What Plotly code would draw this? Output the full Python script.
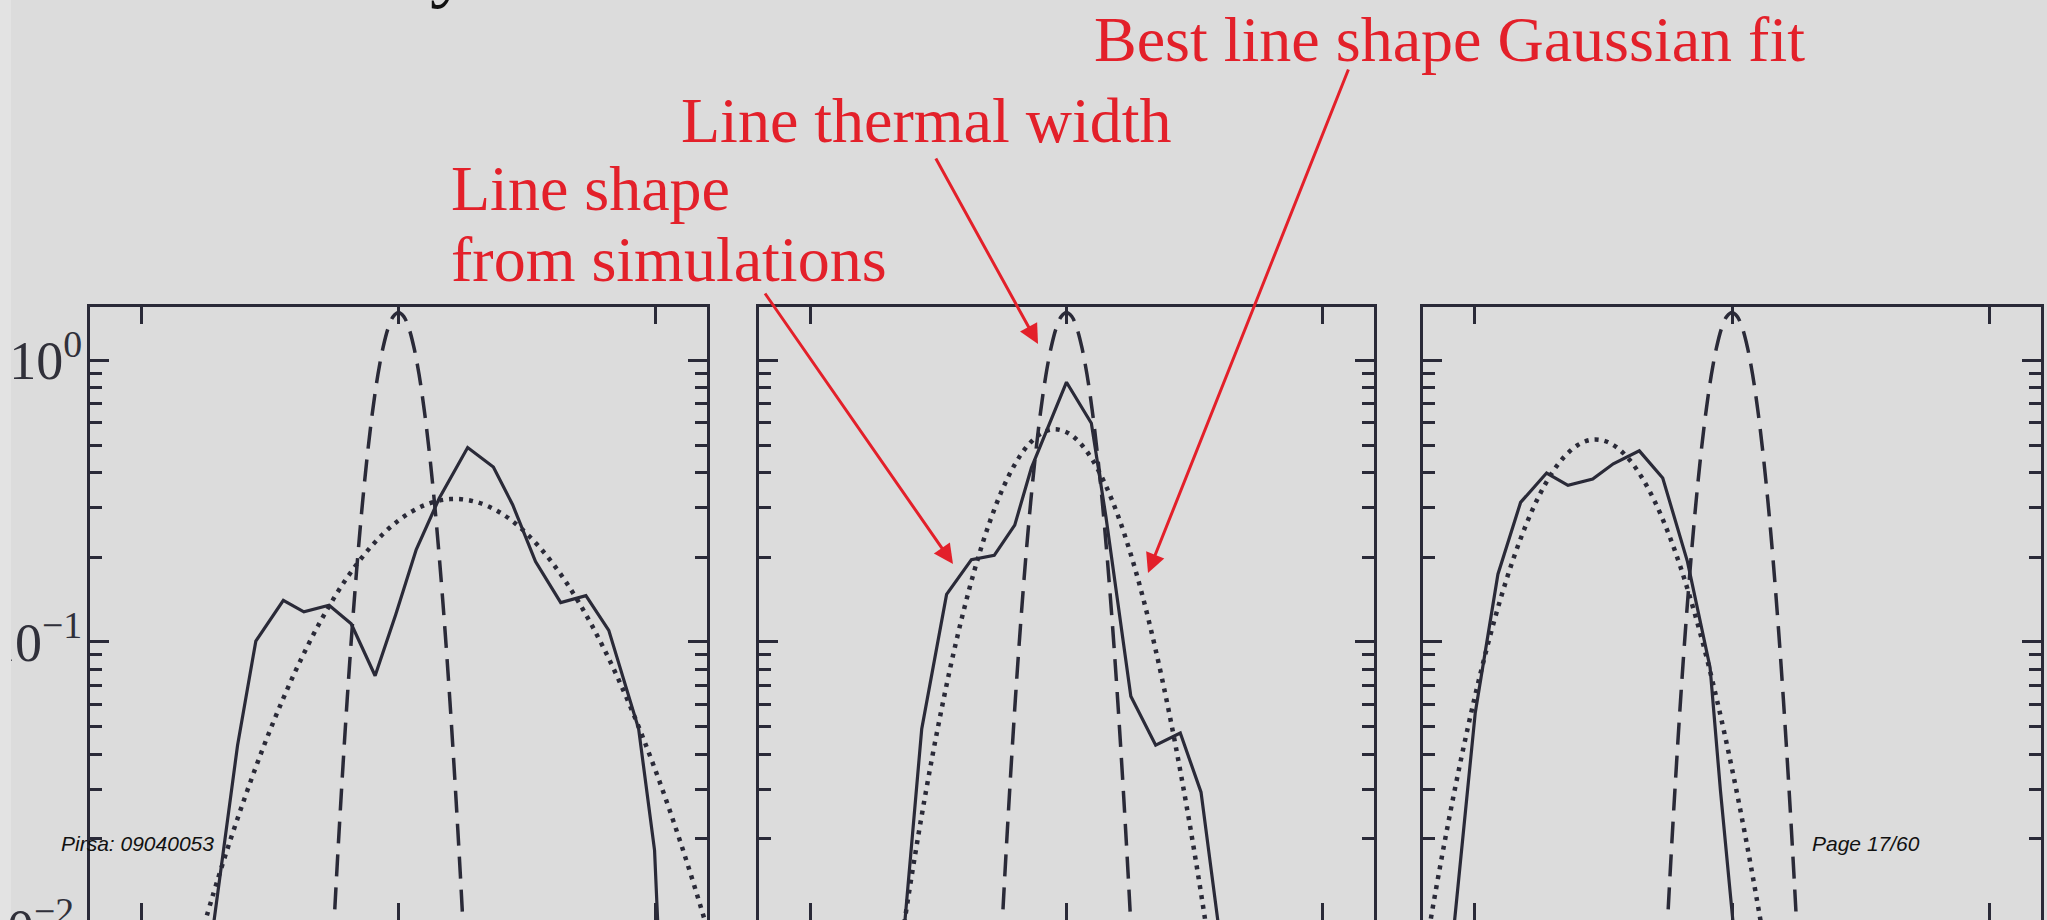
import plotly.graph_objects as go

W, H = 2047, 920
INK = "#2a2a38"
RED = "#e3202a"
BG = "#dcdcdc"

# ---------------- data ----------------
# Thermal line profile (same in every panel), velocity offset vs. normalised flux
thermal_x = [-0.28, -0.26, -0.24, -0.22, -0.20, -0.18, -0.16, -0.14, -0.12, -0.10,
             -0.08, -0.06, -0.04, -0.02, 0.00, 0.02, 0.04, 0.06, 0.08, 0.10,
             0.12, 0.14, 0.16, 0.18, 0.20, 0.22, 0.24, 0.26, 0.28]
thermal_v = [0.00292, 0.00689, 0.01524, 0.0316, 0.0617, 0.1128, 0.1935, 0.3118, 0.471, 0.668,
             0.890, 1.111, 1.303, 1.433, 1.479, 1.433, 1.303, 1.111, 0.890, 0.668,
             0.471, 0.3118, 0.1935, 0.1128, 0.0617, 0.0316, 0.01524, 0.00689, 0.00292]

# Panel 1
sim1_x = [-0.74, -0.680, -0.626, -0.555, -0.448, -0.368, -0.270, -0.184, -0.091, -0.011,
          0.069, 0.158, 0.269, 0.369, 0.444, 0.533, 0.631, 0.729, 0.818, 0.934, 0.996, 1.03]
sim1_v = [0.0072, 0.0184, 0.043, 0.1007, 0.1405, 0.128, 0.135, 0.116, 0.0759, 0.125,
          0.213, 0.323, 0.490, 0.418, 0.307, 0.193, 0.138, 0.146, 0.110, 0.0492, 0.0182, 0.0036]
fit1_x = [-0.8, -0.7, -0.6, -0.5, -0.4, -0.3, -0.2, -0.1, 0.0, 0.1, 0.2, 0.3,
          0.4, 0.5, 0.6, 0.7, 0.8, 0.9, 1.0, 1.1, 1.2, 1.3]
fit1_v = [0.00721, 0.01466, 0.02767, 0.04853, 0.0791, 0.1200, 0.1691, 0.2216, 0.2699, 0.3056,
          0.3216, 0.3146, 0.2862, 0.2418, 0.1901, 0.1389, 0.0943, 0.0595, 0.0349, 0.01905,
          0.00966, 0.00455]

# Panel 2
sim2_x = [-0.66, -0.565, -0.468, -0.371, -0.282, -0.202, -0.137, 0.0, 0.097, 0.154,
          0.251, 0.348, 0.444, 0.525, 0.62]
sim2_v = [0.00505, 0.0491, 0.1476, 0.196, 0.203, 0.260, 0.415, 0.836, 0.598, 0.278,
          0.0642, 0.0430, 0.0475, 0.0293, 0.0064]
fit2_x = [-0.70, -0.65, -0.60, -0.55, -0.50, -0.45, -0.40, -0.35, -0.30, -0.25, -0.20,
          -0.15, -0.10, -0.05, 0.00, 0.05, 0.10, 0.15, 0.20, 0.25, 0.30, 0.35, 0.40,
          0.45, 0.50, 0.55, 0.60]
fit2_v = [0.0038, 0.00793, 0.01560, 0.02897, 0.0507, 0.0838, 0.1306, 0.1920, 0.2662, 0.3483,
          0.4297, 0.5000, 0.5492, 0.5687, 0.5556, 0.5119, 0.4450, 0.3649, 0.2823, 0.2060,
          0.1418, 0.0920, 0.0564, 0.0326, 0.01775, 0.00912, 0.00443]

# Panel 3
sim3_x = [-1.10, -0.997, -0.909, -0.821, -0.720, -0.637, -0.541, -0.461, -0.360, -0.269,
          -0.173, -0.085, -0.045, 0.02]
sim3_v = [0.00635, 0.0561, 0.174, 0.313, 0.398, 0.360, 0.379, 0.429, 0.477, 0.382,
          0.193, 0.081, 0.0298, 0.0071]
fit3_x = [-1.25, -1.20, -1.15, -1.10, -1.05, -1.00, -0.95, -0.90, -0.85, -0.80, -0.75,
          -0.70, -0.65, -0.60, -0.55, -0.50, -0.45, -0.40, -0.35, -0.30, -0.25, -0.20,
          -0.15, -0.10, -0.05, 0.00, 0.05, 0.10, 0.15, 0.20]
fit3_v = [0.00365, 0.00711, 0.01318, 0.02328, 0.03926, 0.0631, 0.0966, 0.1411, 0.1963,
          0.2604, 0.3294, 0.3970, 0.4560, 0.4995, 0.5215, 0.5191, 0.4925, 0.4453, 0.3838,
          0.3155, 0.2471, 0.1845, 0.1313, 0.0891, 0.0576, 0.0355, 0.02088, 0.01169,
          0.00624, 0.00318]

x_ticks = [-1, 0, 1]
y_ticks = [1, 0.1]
y_ticktext = ["10<sup>0</sup>", "10<sup>\u22121</sup>"]
y_low_label = "10<sup>\u22122</sup>"
y_minor = [0.9, 0.8, 0.7, 0.6, 0.5, 0.4, 0.3, 0.2,
           0.09, 0.08, 0.07, 0.06, 0.05, 0.04, 0.03, 0.02]

panels = [(sim1_x, sim1_v, fit1_x, fit1_v),
          (sim2_x, sim2_v, fit2_x, fit2_v),
          (sim3_x, sim3_v, fit3_x, fit3_v)]

# ---------------- layout helpers ----------------
def px(xp):
    return xp / W

def py(yp):
    return 1 - yp / H

panel_px = [(90, 707), (759, 1374), (1423, 2041)]
y_dom = [0, py(306.5)]
tick_font = dict(family="Liberation Serif", size=54, color="#30303a")

fig = go.Figure()

for i, (sx, sv, fx_, fv_) in enumerate(panels):
    xa = "x" if i == 0 else f"x{i + 1}"
    ya = "y" if i == 0 else f"y{i + 1}"
    fig.add_trace(go.Scatter(x=thermal_x, y=thermal_v, mode="lines", xaxis=xa, yaxis=ya,
                             line=dict(color=INK, width=3.5, dash="22px,11px", shape="spline"),
                             hoverinfo="skip"))
    fig.add_trace(go.Scatter(x=fx_, y=fv_, mode="lines", xaxis=xa, yaxis=ya,
                             line=dict(color=INK, width=4.5, dash="4px,6px", shape="spline"),
                             hoverinfo="skip"))
    fig.add_trace(go.Scatter(x=sx, y=sv, mode="lines", xaxis=xa, yaxis=ya,
                             line=dict(color=INK, width=3.2), hoverinfo="skip"))

layout = dict(
    width=W, height=H,
    margin=dict(l=0, r=0, t=0, b=0, pad=0),
    paper_bgcolor=BG, plot_bgcolor=BG,
    showlegend=False,
    template="none",
)

for i, (x0, x1) in enumerate(panel_px):
    xk = "xaxis" if i == 0 else f"xaxis{i + 1}"
    yk = "yaxis" if i == 0 else f"yaxis{i + 1}"
    xa = "x" if i == 0 else f"x{i + 1}"
    ya = "y" if i == 0 else f"y{i + 1}"
    layout[xk] = dict(
        domain=[px(x0), px(x1)], range=[-1.2, 1.2], anchor=ya, side="top",
        showline=True, linecolor=INK, linewidth=3, mirror="ticks",
        ticks="inside", ticklen=17, tickwidth=3, tickcolor=INK,
        tickmode="array", tickvals=x_ticks, showticklabels=False,
        showgrid=False, zeroline=False, automargin=False, fixedrange=True,
    )
    layout[yk] = dict(
        domain=y_dom, type="log", range=[-1.987, 0.191], anchor=xa,
        showline=True, linecolor=INK, linewidth=3, mirror="ticks",
        ticks="inside", ticklen=19, tickwidth=3, tickcolor=INK,
        tickmode="array", tickvals=y_ticks, ticktext=y_ticktext,
        showticklabels=(i == 0), tickfont=tick_font, ticklabelstandoff=-6,
        minor=dict(tickmode="array", tickvals=y_minor, ticks="inside",
                   ticklen=12, tickwidth=3, tickcolor=INK, showgrid=False),
        showgrid=False, zeroline=False, automargin=False, fixedrange=True,
    )

serif = dict(family="Liberation Serif", size=64, color=RED)
foot = dict(family="Liberation Sans", size=21, color="#111111")

def label(text, left, center_y, font, anchor="left"):
    return dict(text=text, xref="paper", yref="paper", x=px(left), y=py(center_y),
                xanchor=anchor, yanchor="middle", showarrow=False, font=font)

def arrow(tail, tip):
    return dict(text="", xref="paper", yref="paper", x=px(tip[0]), y=py(tip[1]),
                axref="pixel", ayref="pixel", ax=tail[0] - tip[0], ay=tail[1] - tip[1],
                showarrow=True, arrowhead=2, arrowsize=1.3, arrowwidth=3,
                arrowcolor=RED, standoff=0, startstandoff=0)

annotations = [
    label("Best line shape Gaussian fit", 1092, 40, serif),
    label("Line thermal width", 679, 121, serif),
    label("Line shape", 449, 189, serif),
    label("from simulations", 449, 260, serif),
    arrow((1349, 68), (1148, 573)),
    arrow((935, 157), (1038, 344)),
    arrow((764, 292), (953, 564)),
    label(y_low_label, 76, 924, tick_font, anchor="right"),
    label("<i>Pirsa: 09040053</i>", 59, 843, foot),
    label("<i>Page 17/60</i>", 1810, 843, foot),
    label("y", 428, -35, dict(family="Liberation Serif", size=80, color="#111111")),
]
layout["annotations"] = annotations
# pale slide edge along the left side
layout["shapes"] = [dict(type="rect", xref="paper", yref="paper", x0=0, x1=px(11),
                         y0=0, y1=1, fillcolor="#e3e3e3", line=dict(width=0), layer="above")]

fig.update_layout(**layout)
fig.write_html("out.html")
